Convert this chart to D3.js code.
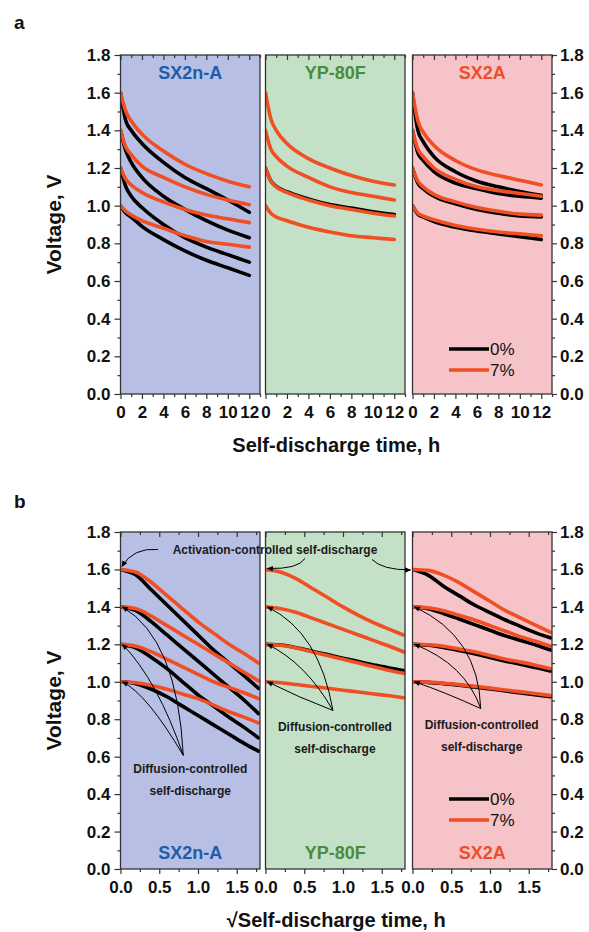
<!DOCTYPE html>
<html>
<head>
<meta charset="utf-8">
<script src="https://cdn.jsdelivr.net/npm/d3@7"></script>
<style>
  body { margin: 0; background: #fff; }
  svg text { font-family: "Liberation Sans", Arial, sans-serif; }
</style>
</head>
<body>
<div id="chart"></div>
<script>
// ---- data ----
const panelNames = ["SX2n-A", "YP-80F", "SX2A"];
const seriesNames = ["0%", "7%"];
const startVoltage = [1.6, 1.4, 1.2, 1.0];
const voltTicks = [0, 0.2, 0.4, 0.6, 0.8, 1.0, 1.2, 1.4, 1.6, 1.8];

// (a) voltage vs self-discharge time (h), one row per start voltage
const timeH = [0, 0.5, 1, 2, 4, 6, 8, 10, 12];
const timeTicks = [0, 2, 4, 6, 8, 10, 12];

const aSX2nA_0 = [
  [1.60, 1.45, 1.40, 1.33, 1.23, 1.15, 1.09, 1.03, 0.965],
  [1.40, 1.29, 1.23, 1.15, 1.05, 0.98, 0.92, 0.87, 0.83],
  [1.20, 1.10, 1.05, 0.99, 0.90, 0.83, 0.78, 0.74, 0.70],
  [1.00, 0.96, 0.94, 0.89, 0.82, 0.76, 0.71, 0.67, 0.63]
];
const aSX2nA_7 = [
  [1.60, 1.50, 1.45, 1.38, 1.29, 1.22, 1.17, 1.13, 1.10],
  [1.40, 1.31, 1.27, 1.21, 1.15, 1.10, 1.06, 1.03, 1.005],
  [1.20, 1.14, 1.11, 1.07, 1.02, 0.98, 0.95, 0.93, 0.91],
  [1.00, 0.97, 0.95, 0.92, 0.88, 0.84, 0.81, 0.795, 0.78]
];
const aYP80F_0 = [
  [1.60, 1.46, 1.40, 1.33, 1.25, 1.20, 1.16, 1.13, 1.11],
  [1.40, 1.30, 1.26, 1.21, 1.15, 1.10, 1.07, 1.05, 1.03],
  [1.20, 1.132, 1.103, 1.074, 1.036, 1.006, 0.987, 0.968, 0.953],
  [1.00, 0.96, 0.94, 0.92, 0.885, 0.86, 0.84, 0.83, 0.82]
];
const aYP80F_7 = [
  [1.60, 1.46, 1.40, 1.33, 1.25, 1.20, 1.16, 1.13, 1.11],
  [1.40, 1.30, 1.26, 1.21, 1.15, 1.10, 1.07, 1.05, 1.03],
  [1.20, 1.13, 1.10, 1.07, 1.03, 1.00, 0.98, 0.96, 0.945],
  [1.00, 0.96, 0.94, 0.92, 0.885, 0.86, 0.84, 0.83, 0.82]
];
const aSX2A_0 = [
  [1.60, 1.40, 1.34, 1.26, 1.18, 1.13, 1.10, 1.075, 1.055],
  [1.40, 1.28, 1.24, 1.18, 1.12, 1.09, 1.065, 1.05, 1.04],
  [1.20, 1.12, 1.09, 1.05, 1.01, 0.98, 0.96, 0.945, 0.94],
  [1.00, 0.955, 0.94, 0.915, 0.885, 0.865, 0.85, 0.835, 0.82]
];
const aSX2A_7 = [
  [1.60, 1.45, 1.39, 1.32, 1.24, 1.19, 1.16, 1.135, 1.11],
  [1.40, 1.30, 1.26, 1.20, 1.14, 1.10, 1.08, 1.065, 1.05],
  [1.20, 1.13, 1.10, 1.06, 1.02, 0.99, 0.97, 0.955, 0.95],
  [1.00, 0.96, 0.945, 0.925, 0.895, 0.875, 0.86, 0.85, 0.84]
];

// (b) voltage vs sqrt(self-discharge time)
const sqrtTime = [0, 0.2, 0.4, 0.6, 0.8, 1.0, 1.2, 1.4, 1.6, 1.78];
const sqrtTicks = [0, 0.5, 1.0, 1.5];

const bSX2nA_0 = [
  [1.60, 1.57, 1.49, 1.41, 1.33, 1.25, 1.17, 1.10, 1.03, 0.965],
  [1.40, 1.38, 1.32, 1.25, 1.18, 1.11, 1.04, 0.97, 0.90, 0.83],
  [1.20, 1.18, 1.13, 1.07, 1.00, 0.93, 0.87, 0.81, 0.755, 0.70],
  [1.00, 0.99, 0.96, 0.92, 0.87, 0.82, 0.77, 0.72, 0.67, 0.63]
];
const bSX2nA_7 = [
  [1.60, 1.585, 1.53, 1.46, 1.39, 1.32, 1.26, 1.20, 1.15, 1.10],
  [1.40, 1.39, 1.35, 1.30, 1.25, 1.20, 1.15, 1.10, 1.05, 1.005],
  [1.20, 1.19, 1.16, 1.12, 1.08, 1.04, 1.00, 0.97, 0.94, 0.91],
  [1.00, 0.995, 0.98, 0.96, 0.935, 0.91, 0.875, 0.84, 0.81, 0.78]
];
const bYP80F_0 = [
  [1.60, 1.585, 1.55, 1.50, 1.45, 1.40, 1.355, 1.315, 1.28, 1.25],
  [1.40, 1.39, 1.37, 1.34, 1.31, 1.28, 1.25, 1.22, 1.19, 1.16],
  [1.20, 1.196, 1.182, 1.163, 1.145, 1.126, 1.108, 1.09, 1.073, 1.06],
  [1.00, 0.995, 0.985, 0.975, 0.965, 0.955, 0.945, 0.935, 0.925, 0.915]
];
const bYP80F_7 = [
  [1.60, 1.585, 1.55, 1.50, 1.45, 1.40, 1.355, 1.315, 1.28, 1.25],
  [1.40, 1.39, 1.37, 1.34, 1.31, 1.28, 1.25, 1.22, 1.19, 1.16],
  [1.20, 1.195, 1.18, 1.16, 1.14, 1.12, 1.10, 1.08, 1.06, 1.045],
  [1.00, 0.995, 0.985, 0.975, 0.965, 0.955, 0.945, 0.935, 0.925, 0.915]
];
const bSX2A_0 = [
  [1.60, 1.57, 1.51, 1.46, 1.41, 1.37, 1.33, 1.295, 1.26, 1.235],
  [1.40, 1.39, 1.365, 1.335, 1.305, 1.275, 1.245, 1.22, 1.195, 1.17],
  [1.20, 1.195, 1.183, 1.167, 1.15, 1.13, 1.11, 1.093, 1.075, 1.057],
  [1.00, 0.997, 0.99, 0.982, 0.972, 0.962, 0.951, 0.94, 0.93, 0.92]
];
const bSX2A_7 = [
  [1.60, 1.595, 1.57, 1.53, 1.48, 1.43, 1.38, 1.34, 1.30, 1.265],
  [1.40, 1.395, 1.38, 1.355, 1.33, 1.30, 1.27, 1.24, 1.215, 1.19],
  [1.20, 1.198, 1.19, 1.175, 1.16, 1.14, 1.12, 1.105, 1.087, 1.07],
  [1.00, 0.998, 0.992, 0.985, 0.976, 0.966, 0.956, 0.946, 0.936, 0.927]
];

// ---- styles / layout ----
const panelFill = ["#b7bfe4", "#c4e1c7", "#f5c3c8"];
const panelInk = ["#1f5cac", "#4a8c3c", "#ee4e27"];
const lineColor = ["#000000", "#f04e23"];
const axisInk = "#333";
const panelX = [120.5, 265.5, 412.5];
const panelW = 139.5;

const svg = d3.select("#chart").append("svg")
    .attr("width", 589)
    .attr("height", 932);

svg.append("defs").append("marker")
    .attr("id", "arrow")
    .attr("viewBox", "0 0 10 10")
    .attr("refX", 9).attr("refY", 5)
    .attr("markerUnits", "userSpaceOnUse")
    .attr("markerWidth", 7).attr("markerHeight", 6)
    .attr("orient", "auto")
    .append("path")
    .attr("d", "M0,0.5L10,5L0,9.5z")
    .attr("fill", "#000");

function styleAxis(g, size) {
    g.select(".domain").remove();
    g.selectAll(".tick line").attr("stroke", axisInk).attr("stroke-width", 1.2);
    g.selectAll("text")
        .attr("fill", "#111")
        .style("font-size", size + "px")
        .style("font-weight", "bold");
}

// a 0% curve lying exactly under its 7% curve is hidden in the figure
const sameCurve = (p, q) => p.every((v, k) => v === q[k]);

function drawRow(cfg) {
    const y = d3.scaleLinear().domain([0, 1.8]).range([cfg.bottom, cfg.top]);
    const xs = panelX.map(px => d3.scaleLinear().domain(cfg.xDomain).range([px, px + panelW]));

    panelNames.forEach((name, i) => {
        const x = xs[i];
        const g = svg.append("g");
        const clipId = "clip-" + cfg.id + i;

        g.append("clipPath").attr("id", clipId)
            .append("rect")
            .attr("x", x.range()[0]).attr("y", cfg.top)
            .attr("width", panelW).attr("height", cfg.bottom - cfg.top);

        g.append("rect")
            .attr("x", x.range()[0]).attr("y", cfg.top)
            .attr("width", panelW).attr("height", cfg.bottom - cfg.top)
            .attr("fill", panelFill[i]);

        const line = d3.line()
            .x((d, k) => x(cfg.xValues[k]))
            .y(d => y(d))
            .curve(d3.curveMonotoneX);

        const [black, red] = cfg.data[i];
        const visible = [black.filter((c, k) => !sameCurve(c, red[k])), red];

        const curves = g.append("g").attr("clip-path", `url(#${clipId})`);
        visible.forEach((set, s) => {
            curves.selectAll(".c" + s)
                .data(set)
                .enter().append("path")
                .attr("class", "c" + s)
                .attr("d", line)
                .attr("fill", "none")
                .attr("stroke", lineColor[s])
                .attr("stroke-width", 3.6)
                .attr("stroke-linecap", "round");
        });

        g.append("rect")
            .attr("x", x.range()[0]).attr("y", cfg.top)
            .attr("width", panelW).attr("height", cfg.bottom - cfg.top)
            .attr("fill", "none")
            .attr("stroke", axisInk)
            .attr("stroke-width", 1.3);

        // bottom ticks + labels
        g.append("g").attr("transform", `translate(0,${cfg.bottom})`)
            .call(d3.axisBottom(x).tickValues(cfg.xTicks).tickSize(5).tickPadding(7).tickFormat(cfg.xFormat))
            .call(a => styleAxis(a, 17));
        g.append("g").attr("transform", `translate(0,${cfg.bottom})`)
            .call(d3.axisBottom(x).tickValues(cfg.xMinor).tickSize(3).tickFormat(""))
            .call(a => styleAxis(a, 17));
        // top ticks point inward
        g.append("g").attr("transform", `translate(0,${cfg.top})`)
            .call(d3.axisTop(x).tickValues(cfg.xTicks).tickSize(-5).tickFormat(""))
            .call(a => styleAxis(a, 17));
        g.append("g").attr("transform", `translate(0,${cfg.top})`)
            .call(d3.axisTop(x).tickValues(cfg.xMinor).tickSize(-3).tickFormat(""))
            .call(a => styleAxis(a, 17));

        g.append("text")
            .attr("x", x.range()[0] + panelW / 2)
            .attr("y", cfg.nameY)
            .attr("text-anchor", "middle")
            .attr("fill", panelInk[i])
            .style("font-size", "18px")
            .style("font-weight", "bold")
            .text(name);
    });

    const minorV = d3.range(1, 18, 2).map(v => v / 10);
    const left = xs[0].range()[0];
    const right = xs[2].range()[1];

    svg.append("g").attr("transform", `translate(${left},0)`)
        .call(d3.axisLeft(y).tickValues(voltTicks).tickSize(6).tickPadding(4).tickFormat(d3.format(".1f")))
        .call(a => styleAxis(a, 17));
    svg.append("g").attr("transform", `translate(${left},0)`)
        .call(d3.axisLeft(y).tickValues(minorV).tickSize(3).tickFormat(""))
        .call(a => styleAxis(a, 17));
    svg.append("g").attr("transform", `translate(${right},0)`)
        .call(d3.axisRight(y).tickValues(voltTicks).tickSize(5).tickPadding(3).tickFormat(d3.format(".1f")))
        .call(a => styleAxis(a, 17));
    svg.append("g").attr("transform", `translate(${right},0)`)
        .call(d3.axisRight(y).tickValues(minorV).tickSize(3).tickFormat(""))
        .call(a => styleAxis(a, 17));

    svg.append("text")
        .attr("transform", `translate(61,${(cfg.top + cfg.bottom) / 2}) rotate(-90)`)
        .attr("text-anchor", "middle")
        .attr("fill", "#111")
        .style("font-size", "21px")
        .style("font-weight", "bold")
        .text("Voltage, V");

    svg.append("text")
        .attr("x", (left + right) / 2)
        .attr("y", cfg.titleY)
        .attr("text-anchor", "middle")
        .attr("fill", "#111")
        .style("font-size", "20px")
        .style("font-weight", "bold")
        .text(cfg.title);

    svg.append("text")
        .attr("x", 14).attr("y", cfg.letterY)
        .attr("fill", "#111")
        .style("font-size", "19px")
        .style("font-weight", "bold")
        .text(cfg.letter);

    // legend
    const leg = svg.append("g");
    seriesNames.forEach((s, k) => {
        const ly = cfg.legendY + k * 21;
        leg.append("line")
            .attr("x1", 449).attr("x2", 489)
            .attr("y1", ly).attr("y2", ly)
            .attr("stroke", lineColor[k])
            .attr("stroke-width", 3.6);
        leg.append("text")
            .attr("x", 490).attr("y", ly)
            .attr("dy", "0.35em")
            .attr("fill", "#111")
            .style("font-size", "17px")
            .text(s);
    });

    return { y, xs };
}

drawRow({
    id: "a", letter: "a", letterY: 29,
    top: 55, bottom: 394,
    xDomain: [0, 13], xValues: timeH,
    xTicks: timeTicks, xMinor: [1, 3, 5, 7, 9, 11, 13],
    xFormat: d3.format("d"),
    data: [[aSX2nA_0, aSX2nA_7], [aYP80F_0, aYP80F_7], [aSX2A_0, aSX2A_7]],
    nameY: 79, titleY: 452,
    title: "Self-discharge time, h",
    legendY: 349
});

const rowB = drawRow({
    id: "b", letter: "b", letterY: 508,
    top: 532, bottom: 869,
    xDomain: [0, 1.8], xValues: sqrtTime,
    xTicks: sqrtTicks, xMinor: [0.25, 0.75, 1.25, 1.75],
    xFormat: d3.format(".1f"),
    data: [[bSX2nA_0, bSX2nA_7], [bYP80F_0, bYP80F_7], [bSX2A_0, bSX2A_7]],
    nameY: 859, titleY: 927,
    title: "\u221ASelf-discharge time, h",
    legendY: 799
});

// ---- annotations in (b) ----
const yb = rowB.y, xb = rowB.xs;
const anno = svg.append("g");

function arrow(p0, c, p1) {
    anno.append("path")
        .attr("d", `M${p0[0]},${p0[1]}Q${c[0]},${c[1]} ${p1[0]},${p1[1]}`)
        .attr("fill", "none")
        .attr("stroke", "#000")
        .attr("stroke-width", 1)
        .attr("marker-end", "url(#arrow)");
}

function label(lines, cx, cy) {
    lines.forEach((t, k) => {
        anno.append("text")
            .attr("x", cx).attr("y", cy + k * 22)
            .attr("text-anchor", "middle")
            .attr("fill", "#1a1a1a")
            .style("font-size", "12px")
            .style("font-weight", "bold")
            .text(t);
    });
}

label(["Activation-controlled self-discharge"], 275, 554);
const y16 = yb(1.6);
arrow([158, y16 - 20], [133, y16 - 22], [xb[0](0) + 1.5, y16 - 3]);
arrow([305, y16 - 11], [298, y16], [xb[1](0) + 2, y16 - 1]);
arrow([372, y16 - 10], [382, y16 + 0.5], [xb[2](0) - 2, y16 + 0.5]);

// diffusion arrows: apex and control points in data units
const diffusion = [
    { apex: [0.81, 0.607], ctrl: [[0.735, 1.227], [0.476, 1.009], [0.347, 0.932]], text: [7, 14] },
    { apex: [0.87, 0.847], ctrl: [[0.696, 1.265], [0.521, 1.10], [0.424, 0.917]], text: [2, 17] },
    { apex: [0.88, 0.857], ctrl: [[0.854, 1.242], [0.68, 1.094], [0.422, 0.944]], text: [1, 16] }
];
diffusion.forEach((d, i) => {
    const x = xb[i];
    const ap = [x(d.apex[0]), yb(d.apex[1])];
    startVoltage.slice(1).forEach((v, k) => {
        arrow(ap, [x(d.ctrl[k][0]), yb(d.ctrl[k][1])], [x(0.025), yb(v)]);
    });
    label(["Diffusion-controlled", "self-discharge"], ap[0] + d.text[0], ap[1] + d.text[1] + 4);
});
</script>
</body>
</html>
